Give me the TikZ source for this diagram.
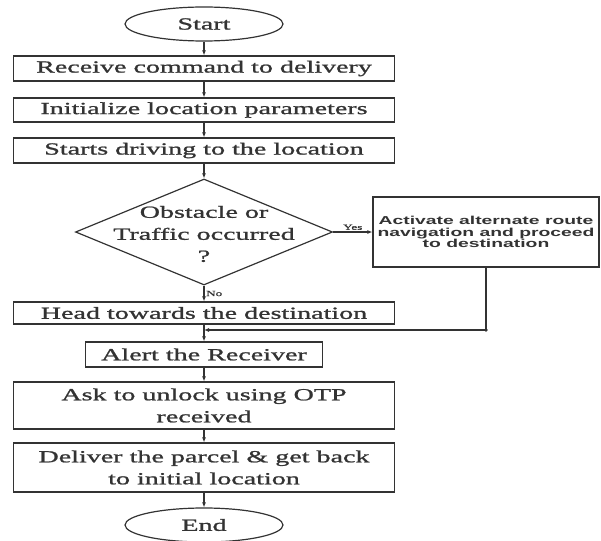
\documentclass[tikz,border=0pt]{standalone}
\usepackage{fontspec}
\setmainfont{Liberation Serif}[FakeStretch=1.65, FakeBold=1.2]
\newfontfamily\altfont{Liberation Sans}[FakeStretch=1.68]
\usepackage{tikz}
\usetikzlibrary{arrows.meta, positioning, shapes.geometric}

\begin{document}
\begin{tikzpicture}[x=1pt, y=-1pt, line width=1.2pt, color=black!80,
    font=\fontsize{17}{22}\selectfont,
    term/.style={ellipse, draw, minimum width=158pt, minimum height=34pt, inner sep=0pt},
    proc/.style={rectangle, draw, minimum width=381pt, inner sep=0pt, align=center},
    decide/.style={diamond, draw, minimum width=257pt, minimum height=106pt, inner sep=0pt},
    flow/.style={-{Latex[length=5pt, width=4pt]}},
    tag/.style={font=\fontsize{8}{9}\selectfont, inner sep=1.5pt}]
    \useasboundingbox (0,0) rectangle (601,540);

    % Start
    \node[term] (start) at (204,24) {Start};

    % Steps
    \node[proc, minimum height=25pt] (recv) at (204,68.5) {Receive command to delivery};
    \node[proc, minimum height=24pt] (init) at (204,110) {Initialize location parameters};
    \node[proc, minimum height=25pt] (drive) at (204,150.5) {Starts driving to the location};

    % Decision
    \node[decide] (obst) at (204,232) {};
    \node[align=center] (obsttext) at (204,234) {Obstacle or\\Traffic occurred\\?};

    % Alternate route
    \node[proc, minimum width=226pt, minimum height=70pt,
        font=\altfont\bfseries\fontsize{11.5}{11.7}\selectfont] (alt) at (486,232)
        {Activate alternate route\\navigation and proceed\\to destination};

    % Delivery
    \node[proc, minimum height=22pt] (head) at (204,313) {Head towards the destination};
    \node[proc, minimum width=237pt, minimum height=25pt] (alert) at (204,354.5) {Alert the Receiver};
    \node[proc, minimum height=47pt] (ask) at (204,405.5) {Ask to unlock using OTP\\received};
    \node[proc, minimum height=49pt] (deliver) at (204,467.5) {Deliver the parcel \& get back\\to initial location};

    % End
    \node[term] (end) at (204,525) {End};

    % Arrows
    \draw[flow] (start) -- (recv);
    \draw[flow] (recv) -- (init);
    \draw[flow] (init) -- (drive);
    \draw[flow] (drive) -- (obst);
    \draw[flow] (obst) -- node[tag, right] {No} (head);
    \draw[flow] (obst) -- node[tag, above] {Yes} (alt);
    \coordinate (merge) at (204,330);
    \draw[flow] (head) -- (alert);
    \draw[flow] (alt.south) |- (merge);
    \fill (alt.south |- merge) circle (1.8pt);
    \draw[flow] (alert) -- (ask);
    \draw[flow] (ask) -- (deliver);
    \draw[flow] (deliver) -- (end);
\end{tikzpicture}
\end{document}
